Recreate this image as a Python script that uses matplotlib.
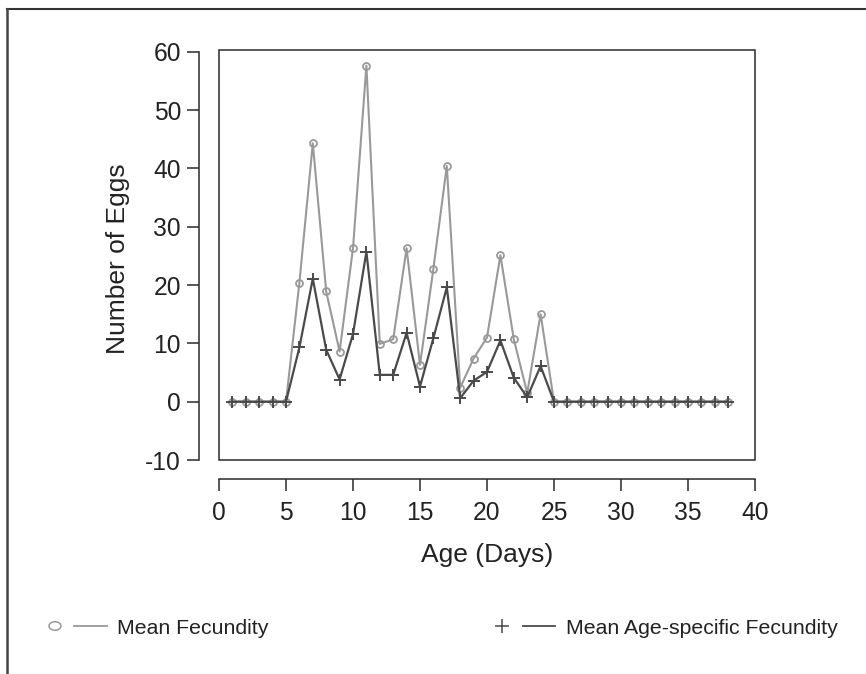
import matplotlib
matplotlib.use("Agg")
import matplotlib.pyplot as plt
from matplotlib.lines import Line2D
from matplotlib.patches import Rectangle, Ellipse

plt.rcParams['font.family'] = ['Liberation Sans', 'DejaVu Sans']

ages = list(range(1, 39))
mean_fecundity = [0, 0, 0, 0, 0,
                  20.4, 44.3, 18.9, 8.6, 26.3, 57.6, 9.9, 10.7, 26.3, 6.3,
                  22.8, 40.4, 2.4, 7.4, 11.0, 25.1, 10.7, 1.5, 15.0,
                  0, 0, 0, 0, 0, 0, 0, 0, 0, 0, 0, 0, 0, 0]
age_specific = [0, 0, 0, 0, 0,
                9.3, 21.1, 8.9, 3.8, 11.6, 25.7, 4.6, 4.6, 11.8, 2.6,
                10.9, 19.6, 0.6, 3.6, 5.1, 10.5, 4.1, 0.75, 6.1,
                0, 0, 0, 0, 0, 0, 0, 0, 0, 0, 0, 0, 0, 0]
x_ticks = [0, 5, 10, 15, 20, 25, 30, 35, 40]
y_ticks = [-10, 0, 10, 20, 30, 40, 50, 60]
labels = ["Mean Fecundity", "Mean Age-specific Fecundity"]

W, H = 866, 674
fig = plt.figure(figsize=(W / 100, H / 100), dpi=100)

def fx(px):
    return px / W

def fy(py):
    return 1 - py / H

light = '#999999'
dark = '#4a4a4a'
axcol = '#2a2a2a'
txt = '#222222'

left, right, top, bottom = 219, 755, 50, 460
ax = fig.add_axes([fx(left), fy(bottom), fx(right - left), (bottom - top) / H])
ax.set_xlim(0, 40)
ax.set_ylim(-10, 60.29)

ax.plot(ages, mean_fecundity, color=light, lw=1.5, marker='o', ms=5.0,
        mfc='none', mec=light, mew=1.3, zorder=3)
ax.plot(ages, age_specific, color=dark, lw=1.6, marker='+', ms=8.5,
        mec=dark, mew=1.4, zorder=4)

# box around plot region
ax.add_patch(Rectangle((0, 0), 1, 1, transform=ax.transAxes, fill=False,
                       ec=axcol, lw=1.1, zorder=5, clip_on=False))

for s in ['top', 'right']:
    ax.spines[s].set_visible(False)
ax.spines['left'].set_position(('outward', 14.4))
ax.spines['bottom'].set_position(('outward', 13.7))
ax.spines['left'].set_bounds(-10, 60)
ax.spines['bottom'].set_bounds(0, 40)
for s in ['left', 'bottom']:
    ax.spines[s].set_color(axcol)
    ax.spines[s].set_linewidth(1.1)

ax.set_xticks(x_ticks)
ax.set_yticks(y_ticks)
ax.set_xticklabels([str(v) for v in x_ticks])
ax.set_yticklabels([str(v) for v in y_ticks])
ax.tick_params(axis='both', direction='out', length=8.9, width=1.1,
               color=axcol, labelsize=17.7, labelcolor=txt)
ax.tick_params(axis='y', pad=4.0)
ax.tick_params(axis='x', pad=7.0)

fig.text(fx(487), fy(555), "Age (Days)", ha='center', va='center',
         fontsize=19, color=txt)
fig.text(fx(118), fy(259), "Number of Eggs", ha='center', va='center',
         rotation=90, fontsize=19, color=txt)

# outer frame lines (top and left)
fig.add_artist(Line2D([fx(7), 1.0], [fy(9.3), fy(9.3)], color='#333333', lw=1.5))
fig.add_artist(Line2D([fx(7), fx(7)], [fy(9.3), 0.0], color='#444444', lw=1.8))

# legend
ly = fy(626)
fig.add_artist(Ellipse((fx(55), ly), width=12 / W, height=8.5 / H,
                       transform=fig.transFigure, fill=False, ec=light, lw=1.1))
fig.add_artist(Line2D([fx(74), fx(107)], [ly, ly], color=light, lw=1.3))
fig.text(fx(117), fy(634), labels[0], ha='left', va='baseline', fontsize=15.3, color=txt)
fig.add_artist(Line2D([fx(502)], [ly], marker='+', ms=10, mec=dark, mew=1.1, lw=0))
fig.add_artist(Line2D([fx(523), fx(555)], [ly, ly], color=dark, lw=1.3))
fig.text(fx(566), fy(634), labels[1], ha='left', va='baseline', fontsize=15.3, color=txt)

fig.savefig("out.png", dpi=100)
